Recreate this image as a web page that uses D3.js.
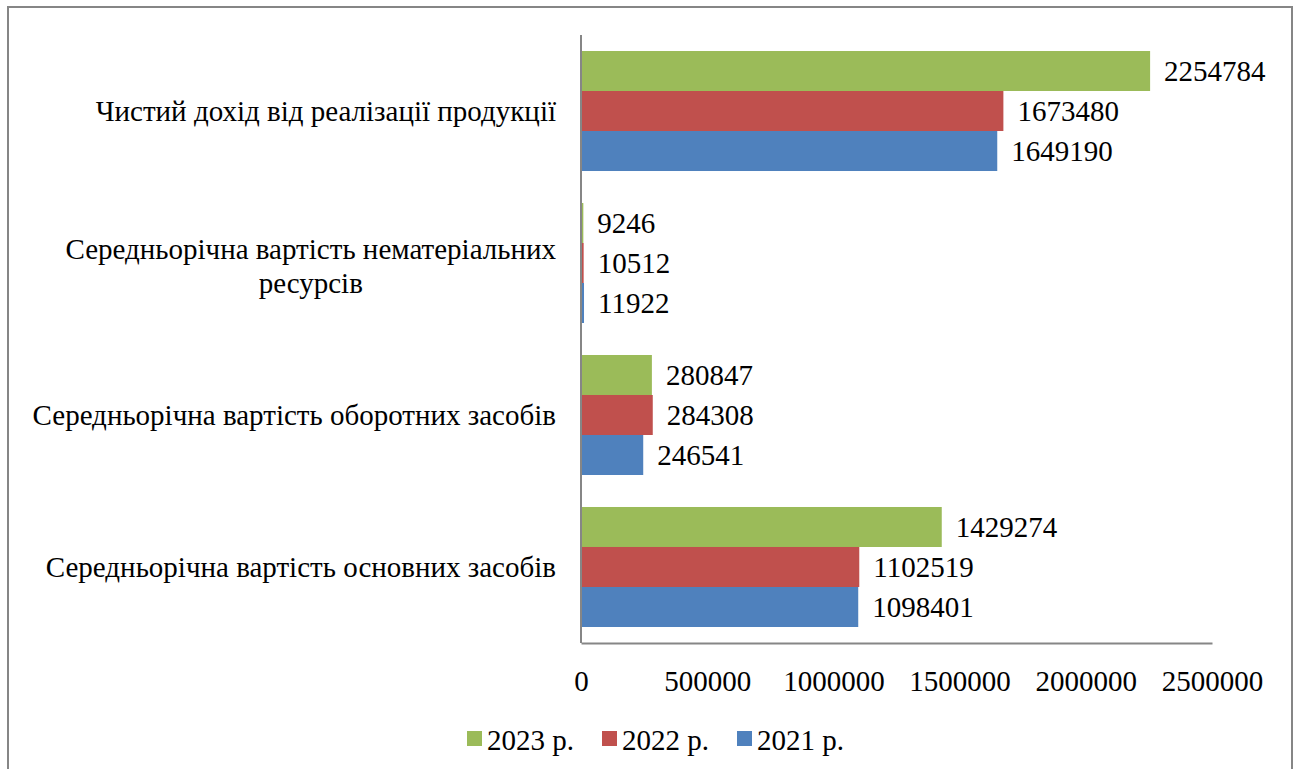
<!DOCTYPE html>
<html>
<head>
<meta charset="utf-8">
<script src="https://cdn.jsdelivr.net/npm/d3@7"></script>
</head>
<body style="margin:0">
<script>
// Chart data
var categories = [
  "Чистий дохід від реалізації продукції",
  "Середньорічна вартість нематеріальних ресурсів",
  "Середньорічна вартість оборотних засобів",
  "Середньорічна вартість основних засобів"
];
var seriesNames = ["2023 р.", "2022 р.", "2021 р."];
var seriesColors = ["#9BBB59", "#C0504D", "#4F81BD"];
var values2023 = [2254784, 9246, 280847, 1429274];
var values2022 = [1673480, 10512, 284308, 1102519];
var values2021 = [1649190, 11922, 246541, 1098401];
var xTicks = [0, 500000, 1000000, 1500000, 2000000, 2500000];

var labelFont = "'Liberation Serif'";

// Set up SVG area
var svgWidth = 1298;
var svgHeight = 769;
var margin = {top: 35, right: 86, bottom: 126, left: 581};
var width = svgWidth - margin.left - margin.right;
var height = svgHeight - margin.top - margin.bottom;

var svg = d3.select("body")
  .append("svg")
  .attr("width", svgWidth)
  .attr("height", svgHeight);

// outer frame (bottom edge sits below the picture)
svg.append("rect")
  .attr("x", 8)
  .attr("y", 7)
  .attr("width", 1284)
  .attr("height", 800)
  .attr("fill", "none")
  .attr("stroke", "#868686")
  .attr("stroke-width", 2);

var chartGroup = svg.append("g")
  .attr("transform", "translate(" + margin.left + "," + margin.top + ")");

var table = categories.map(function(c, i) {
  return {cat: c, vals: [values2023[i], values2022[i], values2021[i]]};
});

// Scales
var yScale = d3.scaleBand()
  .domain(categories)
  .range([0, height])
  .paddingInner(0.2105)
  .paddingOuter(0.1053);

var ySub = d3.scaleBand()
  .domain(seriesNames)
  .range([0, yScale.bandwidth()]);

var xScale = d3.scaleLinear()
  .domain([0, 2500000])
  .range([0, width]);

// Bars
var groups = chartGroup.selectAll(".grp")
  .data(table)
  .enter()
  .append("g")
  .attr("class", "grp")
  .attr("transform", d => `translate(0, ${yScale(d.cat)})`);

groups.selectAll("rect")
  .data(d => d.vals.map((v, j) => ({name: seriesNames[j], value: v, color: seriesColors[j]})))
  .enter()
  .append("rect")
  .attr("x", 0)
  .attr("y", d => ySub(d.name))
  .attr("width", d => xScale(d.value))
  .attr("height", ySub.bandwidth())
  .attr("fill", d => d.color);

// Value labels
groups.selectAll(".val")
  .data(d => d.vals.map((v, j) => ({name: seriesNames[j], value: v})))
  .enter()
  .append("text")
  .attr("class", "val")
  .attr("x", d => xScale(d.value) + 14)
  .attr("y", d => ySub(d.name) + ySub.bandwidth() / 2)
  .attr("dy", "0.35em")
  .style("font-family", labelFont)
  .style("font-size", "29px")
  .text(d => d.value);

// X axis
var bottomAxis = d3.axisBottom(xScale)
  .tickValues(xTicks)
  .tickSize(0)
  .tickPadding(27)
  .tickFormat(d => String(d));

var xAxis = chartGroup.append("g")
  .attr("transform", `translate(0, ${height})`)
  .call(bottomAxis);
xAxis.select(".domain").attr("stroke", "#868686").attr("stroke-width", 2);
xAxis.selectAll("text")
  .style("font-family", labelFont)
  .style("font-size", "29px")
  .attr("fill", "#000");

// Y axis line
chartGroup.append("line")
  .attr("x1", 0).attr("x2", 0)
  .attr("y1", 0).attr("y2", height)
  .attr("stroke", "#868686")
  .attr("stroke-width", 2);

// Category labels, wrapped and right-aligned next to the axis
var labelRight = -25;
var maxW = 535;
var lineH = 34;
groups.append("text")
  .attr("class", "cat")
  .style("font-family", labelFont)
  .style("font-size", "29px")
  .each(function(d) {
    var t = d3.select(this);
    var words = d.cat.split(" ");
    var lines = [];
    var cur = [];
    var probe = t.append("tspan");
    words.forEach(function(w) {
      cur.push(w);
      probe.text(cur.join(" "));
      if (probe.node().getComputedTextLength() > maxW && cur.length > 1) {
        cur.pop();
        lines.push(cur.join(" "));
        cur = [w];
      }
    });
    lines.push(cur.join(" "));
    probe.remove();
    // width of widest line
    var widths = lines.map(function(l) {
      var s = t.append("tspan").text(l);
      var w = s.node().getComputedTextLength();
      s.remove();
      return w;
    });
    var wMax = d3.max(widths);
    var cx = labelRight - wMax / 2;
    var y0 = yScale.bandwidth() / 2 - (lines.length - 1) * lineH / 2 + (lines.length > 1 ? 3 : 0);
    lines.forEach(function(l, k) {
      t.append("tspan")
        .attr("x", cx)
        .attr("y", y0 + k * lineH)
        .attr("dy", "0.35em")
        .attr("text-anchor", "middle")
        .text(l);
    });
  });

// Legend
var legend = svg.append("g")
  .attr("transform", "translate(467, 731)");

var items = legend.selectAll("g")
  .data(seriesNames)
  .enter()
  .append("g")
  .attr("transform", (d, i) => `translate(${i * 135}, 0)`);

items.append("rect")
  .attr("width", 15)
  .attr("height", 15)
  .attr("fill", (d, i) => seriesColors[i]);

items.append("text")
  .attr("x", 20)
  .attr("y", 19)
  .style("font-family", labelFont)
  .style("font-size", "29px")
  .text(d => d);
</script>
</body>
</html>
